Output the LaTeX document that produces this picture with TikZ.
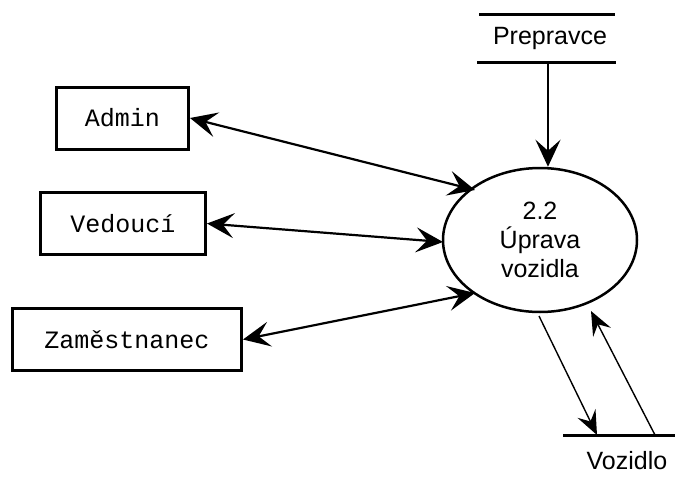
\documentclass[tikz,border=0pt]{standalone}
\usepackage{fontspec}
\setmainfont{Liberation Sans}
\setmonofont{Liberation Mono}
\usetikzlibrary{arrows.meta,shapes.geometric}
\begin{document}
\begin{tikzpicture}[x=1pt,y=-1pt,
  tip/.tip={Stealth[length=27pt,width=25pt,inset=11pt]},
  thintip/.tip={Stealth[length=24pt,width=20pt,inset=9pt]},
  entity/.style={draw,line width=3pt,minimum height=62pt,font=\ttfamily\fontsize{25}{28}\selectfont,inner sep=0pt},
  flow/.style={line width=2.2pt,-tip},
  dflow/.style={line width=2.2pt,tip-tip},
  thin flow/.style={line width=1.4pt,-thintip},
  store/.style={line width=3pt},
  label/.style={font=\fontsize{25}{29}\selectfont}]
\useasboundingbox (0,0) rectangle (675,482);
% external entities
\node[entity,minimum width=132pt] (admin) at (122.5,118) {Admin};
\node[entity,minimum width=165pt] (ved) at (123,223.5) {Vedoucí};
\node[entity,minimum width=229pt] (zam) at (127,339.5) {Zaměstnanec};
% process
\node[draw,ellipse,line width=2.5pt,minimum width=194pt,minimum height=144pt,align=center,
  label,inner sep=0pt] (proc) at (540,240) {2.2\\Úprava\\vozidla};
% data store Prepravce
\draw[store] (479,14) -- (615,14);
\draw[store] (477,62) -- (616,62);
\node[label] (prep) at (550,38) {Prepravce};
\coordinate (prepout) at (548,62);
% data store Vozidlo
\draw[store] (563,435) -- (675,435);
\node[label] (voz) at (627,461) {Vozidlo};
\coordinate (vozin) at (597,435);
\coordinate (vozout) at (655,435);
\coordinate (procbot1) at (539,316);
\coordinate (procbot2) at (591,311);
% flows
\draw[flow] (prepout) -- (proc.north -| prepout);
\draw[dflow] (admin.east) -- (475,190);
\draw[dflow] (ved.east) -- (443,242);
\draw[dflow] (zam.east) -- (475,293);
\draw[thin flow] (procbot1) -- (vozin);
\draw[thin flow] (vozout) -- (procbot2);
\end{tikzpicture}
\end{document}
